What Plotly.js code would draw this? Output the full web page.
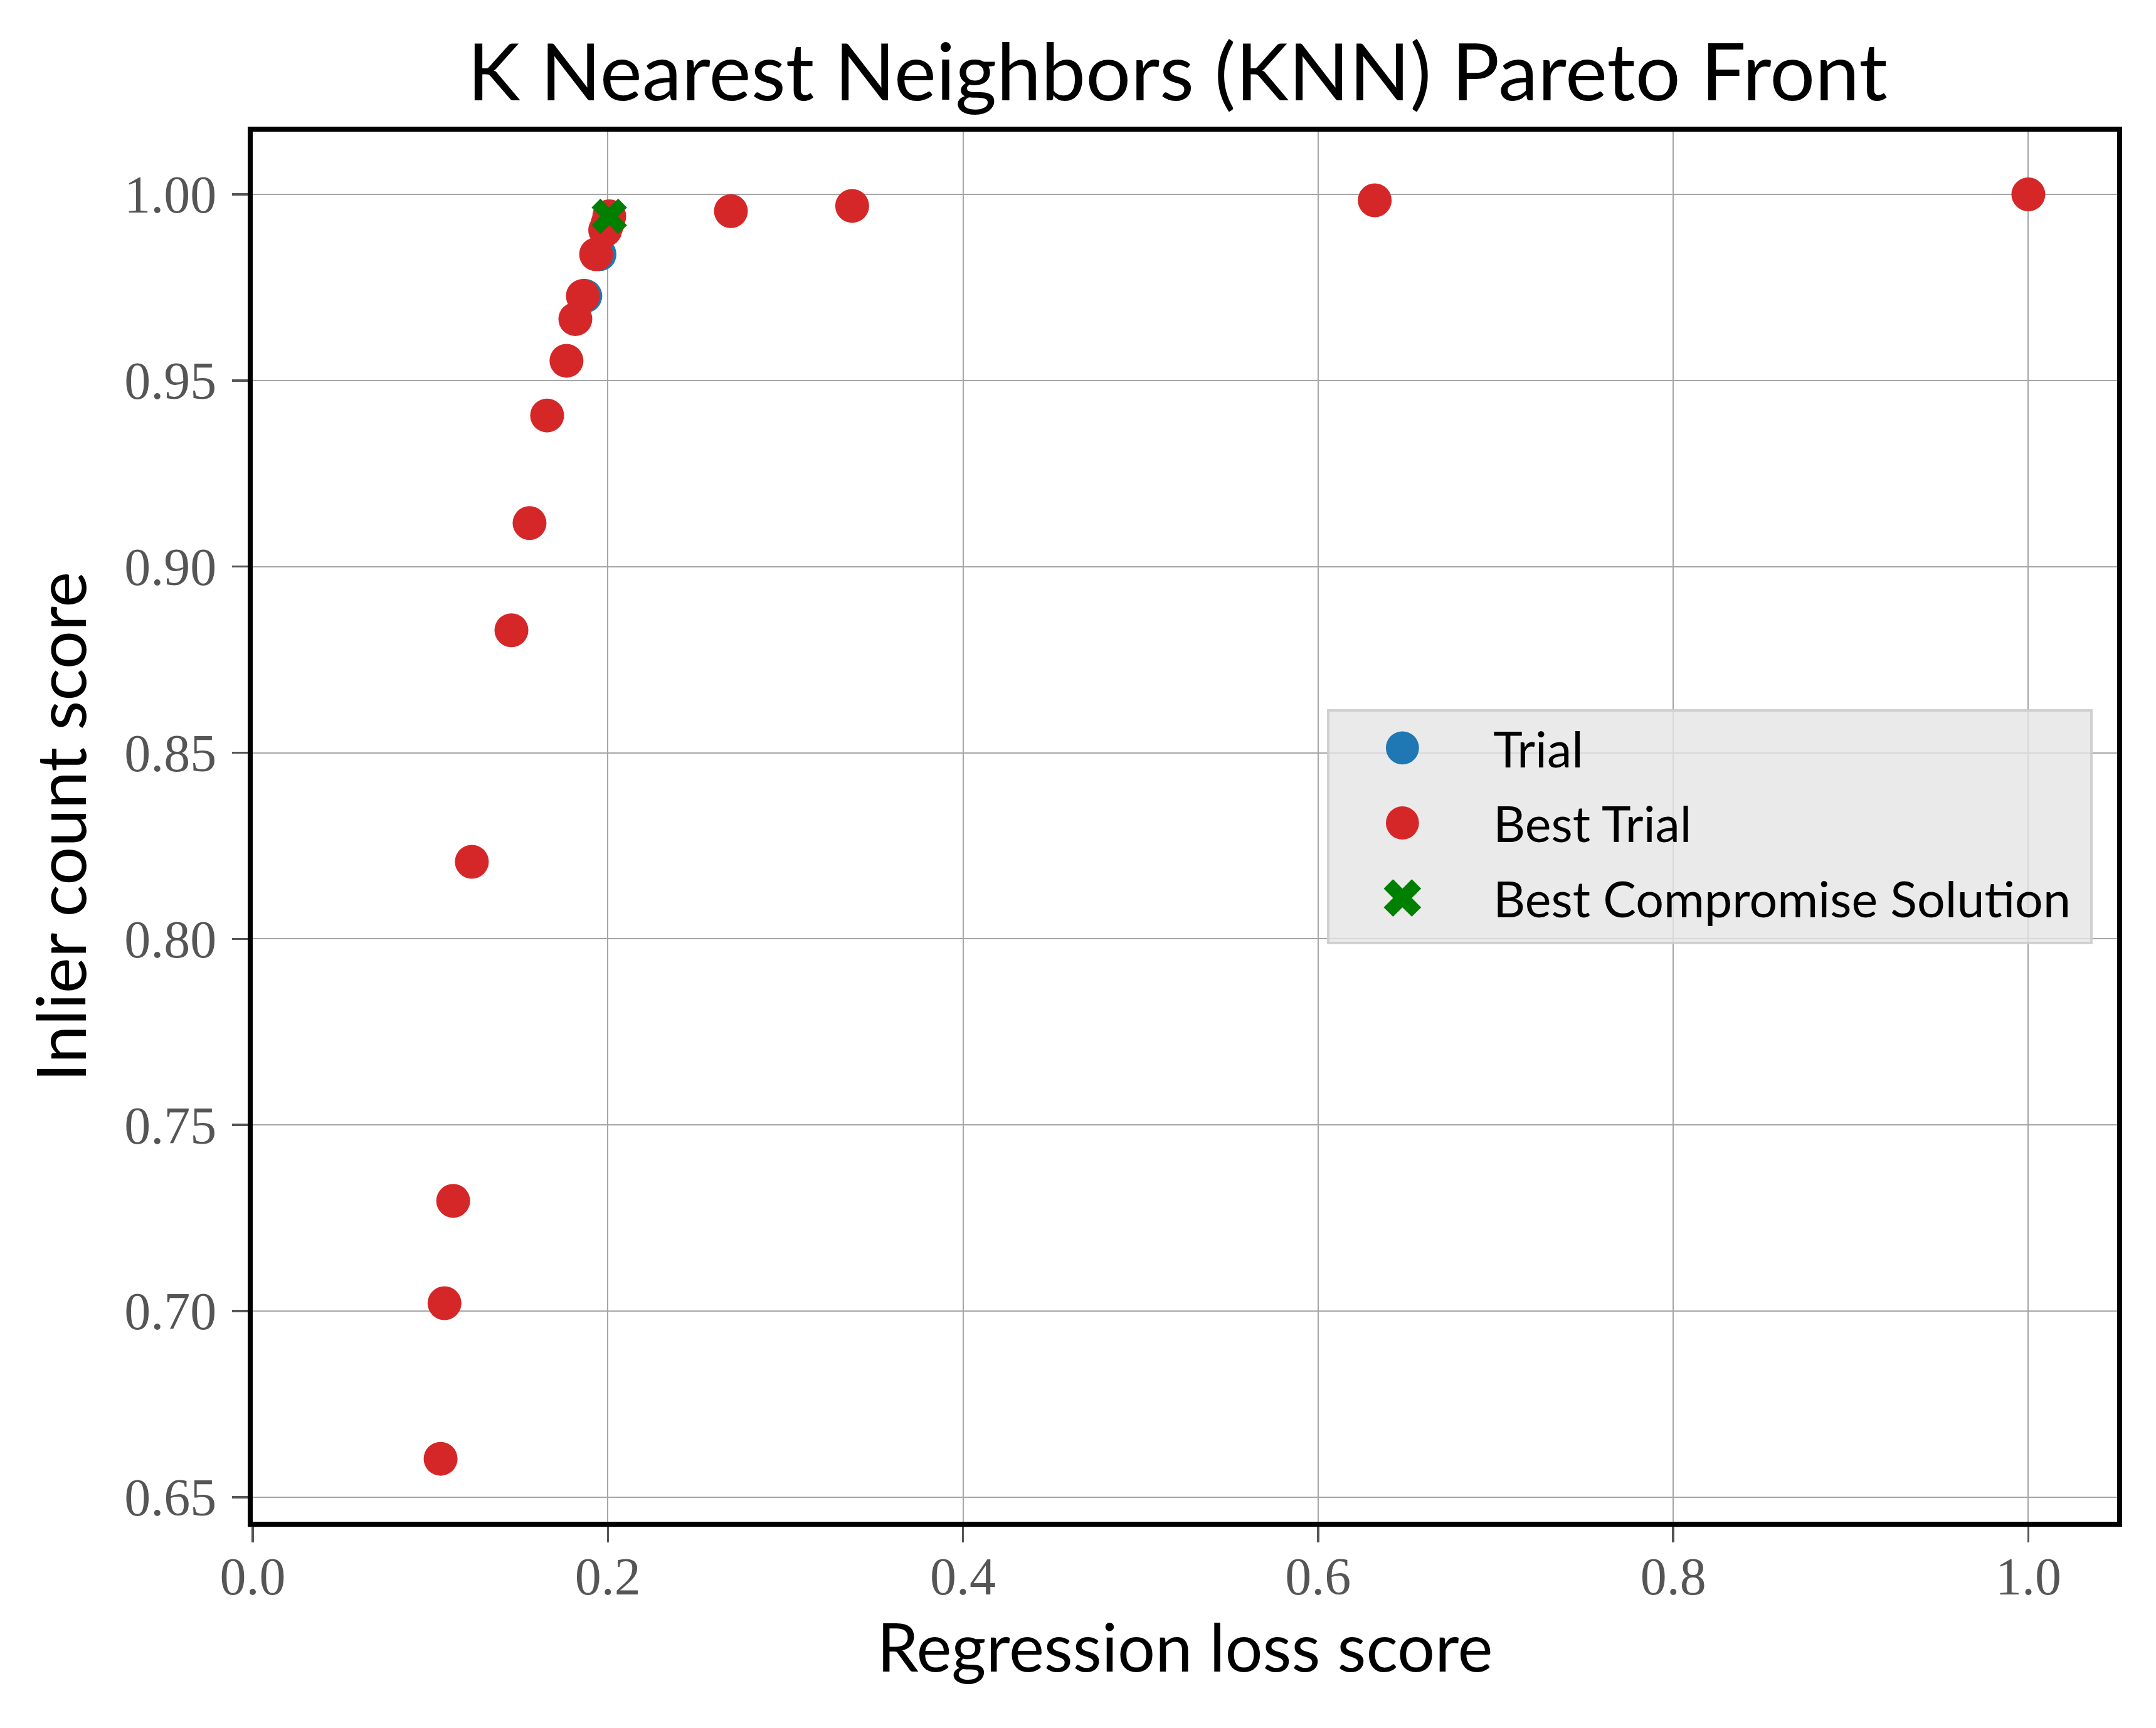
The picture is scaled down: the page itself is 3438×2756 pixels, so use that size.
<!DOCTYPE html>
<html>
<head>
<meta charset="utf-8">
<script src="https://cdn.plot.ly/plotly-3.0.1.min.js"></script>
<style>
  html, body { margin: 0; padding: 0; background: #ffffff; }
  #chart { width: 3438px; height: 2756px; }
</style>
</head>
<body>
<div id="chart"></div>
<script>
// ---- Data ----
const trialLoss   = [0.1953, 0.1873];
const trialInlier = [0.9839, 0.9727];

const bestLoss   = [0.1058, 0.1080, 0.1129, 0.1234, 0.1457, 0.1559, 0.1658, 0.1767, 0.1817, 0.1859, 0.1934, 0.1985, 0.1997, 0.2008, 0.2693, 0.3376, 0.6319, 1.0000];
const bestInlier = [0.6603, 0.7021, 0.7296, 0.8207, 0.8829, 0.9117, 0.9406, 0.9553, 0.9665, 0.9727, 0.9839, 0.9904, 0.9920, 0.9941, 0.9955, 0.9969, 0.9984, 1.0000];

const compromiseLoss   = [0.2008];
const compromiseInlier = [0.9941];

const seriesNames = ["Trial", "Best Trial", "Best Compromise Solution"];
const xTickVals = [0.0, 0.2, 0.4, 0.6, 0.8, 1.0];
const yTickVals = [0.65, 0.70, 0.75, 0.80, 0.85, 0.90, 0.95, 1.00];

const SANS = "Lato, 'Open Sans', sans-serif";
const SERIF = "'Liberation Serif', 'DejaVu Serif', serif";

const traces = [
  {
    type: "scatter", mode: "markers", name: seriesNames[0],
    x: trialLoss, y: trialInlier, legendgroup: "a",
    marker: { color: "#1f77b4", size: 54, symbol: "circle", line: { width: 0 } }
  },
  {
    type: "scatter", mode: "markers", name: seriesNames[1],
    x: bestLoss, y: bestInlier, legendgroup: "b",
    marker: { color: "#d62728", size: 54, symbol: "circle", line: { width: 0 } }
  },
  {
    type: "scatter", mode: "markers", name: seriesNames[2],
    x: compromiseLoss, y: compromiseInlier, legendgroup: "c",
    marker: { color: "#008000", size: 50, symbol: "x", line: { width: 0 } }
  }
];

const axisCommon = {
  showline: true, linecolor: "#000000", linewidth: 8, mirror: true,
  showgrid: true, gridcolor: "#a6a6a6", gridwidth: 2,
  zeroline: false,
  ticks: "outside", ticklen: 25, tickwidth: 3.5, tickcolor: "#555555",
  tickfont: { family: SERIF, size: 84, color: "#555555" }
};

const layout = {
  width: 3438, height: 2756,
  paper_bgcolor: "#ffffff", plot_bgcolor: "#ffffff",
  margin: { l: 403, r: 62, t: 210, b: 329, pad: 0 },
  title: {
    text: "K Nearest Neighbors (KNN) Pareto Front",
    font: { family: SANS, size: 127, color: "#000000" },
    x: 0.5461, xref: "container", xanchor: "center",
    y: 0.958, yref: "container", yanchor: "middle"
  },
  xaxis: Object.assign({}, axisCommon, {
    range: [0, 1.05],
    tickmode: "array", tickvals: xTickVals, tickformat: ".1f",
    ticklabelstandoff: -18,
    title: { text: "Regression loss score", font: { family: SANS, size: 106, color: "#000000" }, standoff: 10 }
  }),
  yaxis: Object.assign({}, axisCommon, {
    range: [0.6434, 1.01685],
    tickmode: "array", tickvals: yTickVals, tickformat: ".2f",
    ticklabelstandoff: 8,
    title: { text: "Inlier count score", font: { family: SANS, size: 108, color: "#000000" }, standoff: 27 }
  }),
  showlegend: true,
  legend: {
    x: 0.5763, xanchor: "left", y: 0.5846, yanchor: "top",
    bgcolor: "rgba(229,229,229,0.8)", bordercolor: "rgba(204,204,204,0.9)", borderwidth: 4,
    font: { family: SANS, size: 79, color: "#000000" },
    traceorder: "grouped", tracegroupgap: 14,
    itemwidth: 251, itemsizing: "trace"
  }
};

const GLYPH_SCALE = 3.3;
const GLYPH_OFFSET = 118;   // px from legend's left edge to glyph centre

// Enlarge the legend glyphs to the plotted marker size (Plotly caps them at 16px).
function fixLegend() {
  const leg = document.querySelector("#chart .legend");
  if (!leg) return;
  const bg = leg.querySelector("rect.bg");
  if (bg) {
    const w = parseFloat(bg.getAttribute("width"));
    const h = parseFloat(bg.getAttribute("height"));
    if (bg.dataset.w !== String(w)) {
      const nw = w + 26, nh = h + 11;
      bg.setAttribute("width", nw);
      bg.setAttribute("height", nh);
      bg.dataset.w = String(nw);
    }
  }
  const bgLeft = bg ? bg.getBoundingClientRect().left : 0;
  leg.querySelectorAll(".legendpoints path").forEach(function (p) {
    p.style.transform = "";
    const t = p.getAttribute("transform") || "";
    const m = /translate\(\s*([-\d.eE]+)[ ,]+([-\d.eE]+)?\s*\)/.exec(t);
    const tx = m ? parseFloat(m[1]) : 0;
    const ty = m && m[2] ? parseFloat(m[2]) : 0;
    const r = p.getBoundingClientRect();
    if (r.width <= 0) return;
    const cx0 = r.left + r.width / 2;
    const nx = tx + (bgLeft + GLYPH_OFFSET - cx0);
    p.style.transformOrigin = "0px 0px";
    p.style.transform = "translate(" + nx.toFixed(1) + "px," + ty.toFixed(1) + "px) scale(" + GLYPH_SCALE + ")";
  });
}

const gd = document.getElementById("chart");
const pr = Plotly.newPlot(gd, traces, layout, { displayModeBar: false, staticPlot: true });
fixLegend();
requestAnimationFrame(fixLegend);
pr.then(function () {
  fixLegend();
  setTimeout(fixLegend, 0);
  setTimeout(fixLegend, 100);
  setTimeout(fixLegend, 500);
});
</script>
</body>
</html>
